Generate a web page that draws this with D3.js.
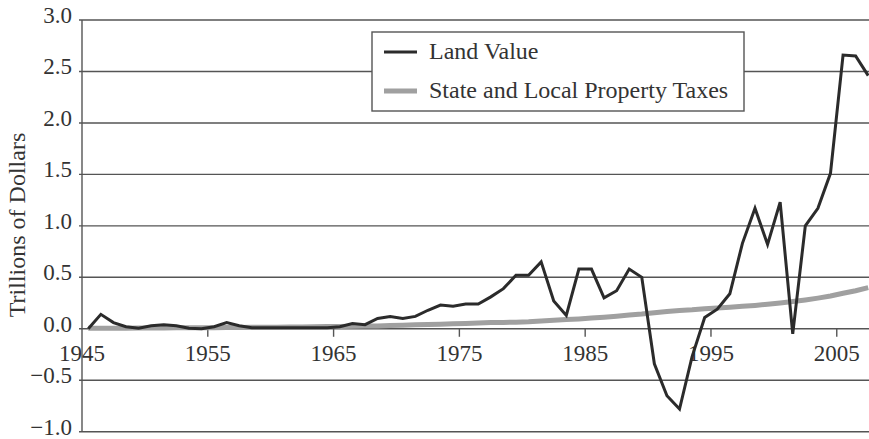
<!DOCTYPE html>
<html>
<head>
  <meta charset="utf-8" />
  <title>Land Value</title>
  <style type="text/css">
    html, body { margin: 0; background: #fff; }
    text { font-family: "Liberation Serif", "Times New Roman", serif; fill: #333; }
  </style>
</head>
<body>
<div id="container"></div>
<script src="https://cdn.jsdelivr.net/npm/d3@7"></script>
<script>
var years = d3.range(1945, 2008);

var landValue = [
  0.00, 0.14, 0.06, 0.02, 0.005, 0.03, 0.04, 0.03, 0.005, 0.00,
  0.02, 0.06, 0.03, 0.01, 0.01, 0.01, 0.01, 0.01, 0.01, 0.01,
  0.02, 0.05, 0.04, 0.10, 0.12, 0.10, 0.12, 0.18, 0.23, 0.22,
  0.24, 0.24, 0.31, 0.39, 0.52, 0.52, 0.65, 0.27, 0.13, 0.58,
  0.58, 0.30, 0.37, 0.58, 0.50, -0.34, -0.65, -0.78, -0.27, 0.11,
  0.19, 0.34, 0.83, 1.17, 0.82, 1.23, -0.05, 1.00, 1.17, 1.51,
  2.66, 2.65, 2.46
];

var propertyTaxes = [
  0.004, 0.005, 0.006, 0.006, 0.007, 0.007, 0.008, 0.009, 0.010, 0.010,
  0.011, 0.012, 0.013, 0.014, 0.015, 0.016, 0.017, 0.018, 0.019, 0.021,
  0.022, 0.024, 0.026, 0.028, 0.031, 0.034, 0.038, 0.042, 0.045, 0.048,
  0.052, 0.056, 0.060, 0.062, 0.064, 0.068, 0.075, 0.082, 0.089, 0.096,
  0.104, 0.112, 0.122, 0.133, 0.143, 0.156, 0.168, 0.178, 0.184, 0.194,
  0.202, 0.209, 0.218, 0.227, 0.238, 0.250, 0.264, 0.280, 0.298, 0.318,
  0.345, 0.370, 0.400
];

var xTicks = [1945, 1955, 1965, 1975, 1985, 1995, 2005];
var yTicks = [-1.0, -0.5, 0.0, 0.5, 1.0, 1.5, 2.0, 2.5, 3.0];
var seriesNames = ["Land Value", "State and Local Property Taxes"];

var width = 869, height = 439;

var x = d3.scaleLinear().domain([1945, 2008]).range([82, 874.5]);
var y = d3.scaleLinear().domain([-1, 3]).range([431.7, 20]);

var svg = d3.select("#container").append("svg")
    .attr("width", width)
    .attr("height", height);

// horizontal grid
svg.append("g").selectAll("line")
  .data(yTicks)
  .enter().append("line")
    .attr("x1", 79).attr("x2", width)
    .attr("y1", function(d) { return y(d); })
    .attr("y2", function(d) { return y(d); })
    .attr("stroke", "#555")
    .attr("stroke-width", 1.4);

// y axis line
svg.append("line")
  .attr("x1", x(1945)).attr("x2", x(1945))
  .attr("y1", y(3)).attr("y2", y(-1))
  .attr("stroke", "#555")
  .attr("stroke-width", 1.4);

// y labels
svg.append("g").selectAll("text")
  .data(yTicks)
  .enter().append("text")
    .attr("x", 72)
    .attr("y", function(d) { return y(d) + 3; })
    .attr("text-anchor", "end")
    .style("font-size", "23px")
    .text(function(d) { return (d < 0 ? "\u2212" : "") + Math.abs(d).toFixed(1); });

// x ticks on the zero line
svg.append("g").selectAll("line")
  .data(xTicks.slice(1))
  .enter().append("line")
    .attr("x1", function(d) { return x(d); })
    .attr("x2", function(d) { return x(d); })
    .attr("y1", y(0)).attr("y2", y(0) + 8)
    .attr("stroke", "#555")
    .attr("stroke-width", 1.4);

svg.append("g").selectAll("text")
  .data(xTicks)
  .enter().append("text")
    .attr("x", function(d) { return x(d); })
    .attr("y", y(0) + 32)
    .attr("text-anchor", "middle")
    .style("font-size", "23px")
    .text(function(d) { return d; });

// y title
svg.append("text")
  .attr("transform", "translate(25," + 225 + ") rotate(-90)")
  .attr("text-anchor", "middle")
  .style("font-size", "24px")
  .text("Trillions of Dollars");

// lines (points sit mid-year)
var line = d3.line()
  .x(function(d) { return x(d[0] + 0.5); })
  .y(function(d) { return y(d[1]); });

var taxData = years.map(function(yr, i) { return [yr, propertyTaxes[i]]; });
var landData = years.map(function(yr, i) { return [yr, landValue[i]]; });

svg.append("path")
  .datum(taxData)
  .attr("d", line)
  .attr("fill", "none")
  .attr("stroke", "#a0a0a0")
  .attr("stroke-width", 5);

svg.append("path")
  .datum(landData)
  .attr("d", line)
  .attr("fill", "none")
  .attr("stroke", "#2b2b2b")
  .attr("stroke-width", 3)
  .attr("stroke-linejoin", "miter");

// legend
var legend = svg.append("g");
legend.append("rect")
  .attr("x", 372).attr("y", 32)
  .attr("width", 372).attr("height", 79)
  .attr("fill", "#fff")
  .attr("stroke", "#555")
  .attr("stroke-width", 1.4);

var legendColors = ["#2b2b2b", "#a0a0a0"];
var legendWidths = [3, 5];
seriesNames.forEach(function(name, i) {
  var ly = 52 + i * 39;
  legend.append("line")
    .attr("x1", 384).attr("x2", 417)
    .attr("y1", ly).attr("y2", ly)
    .attr("stroke", legendColors[i])
    .attr("stroke-width", legendWidths[i]);
  legend.append("text")
    .attr("x", 429).attr("y", ly + 7)
    .style("font-size", "24px")
    .text(name);
});
</script>
</body>
</html>
